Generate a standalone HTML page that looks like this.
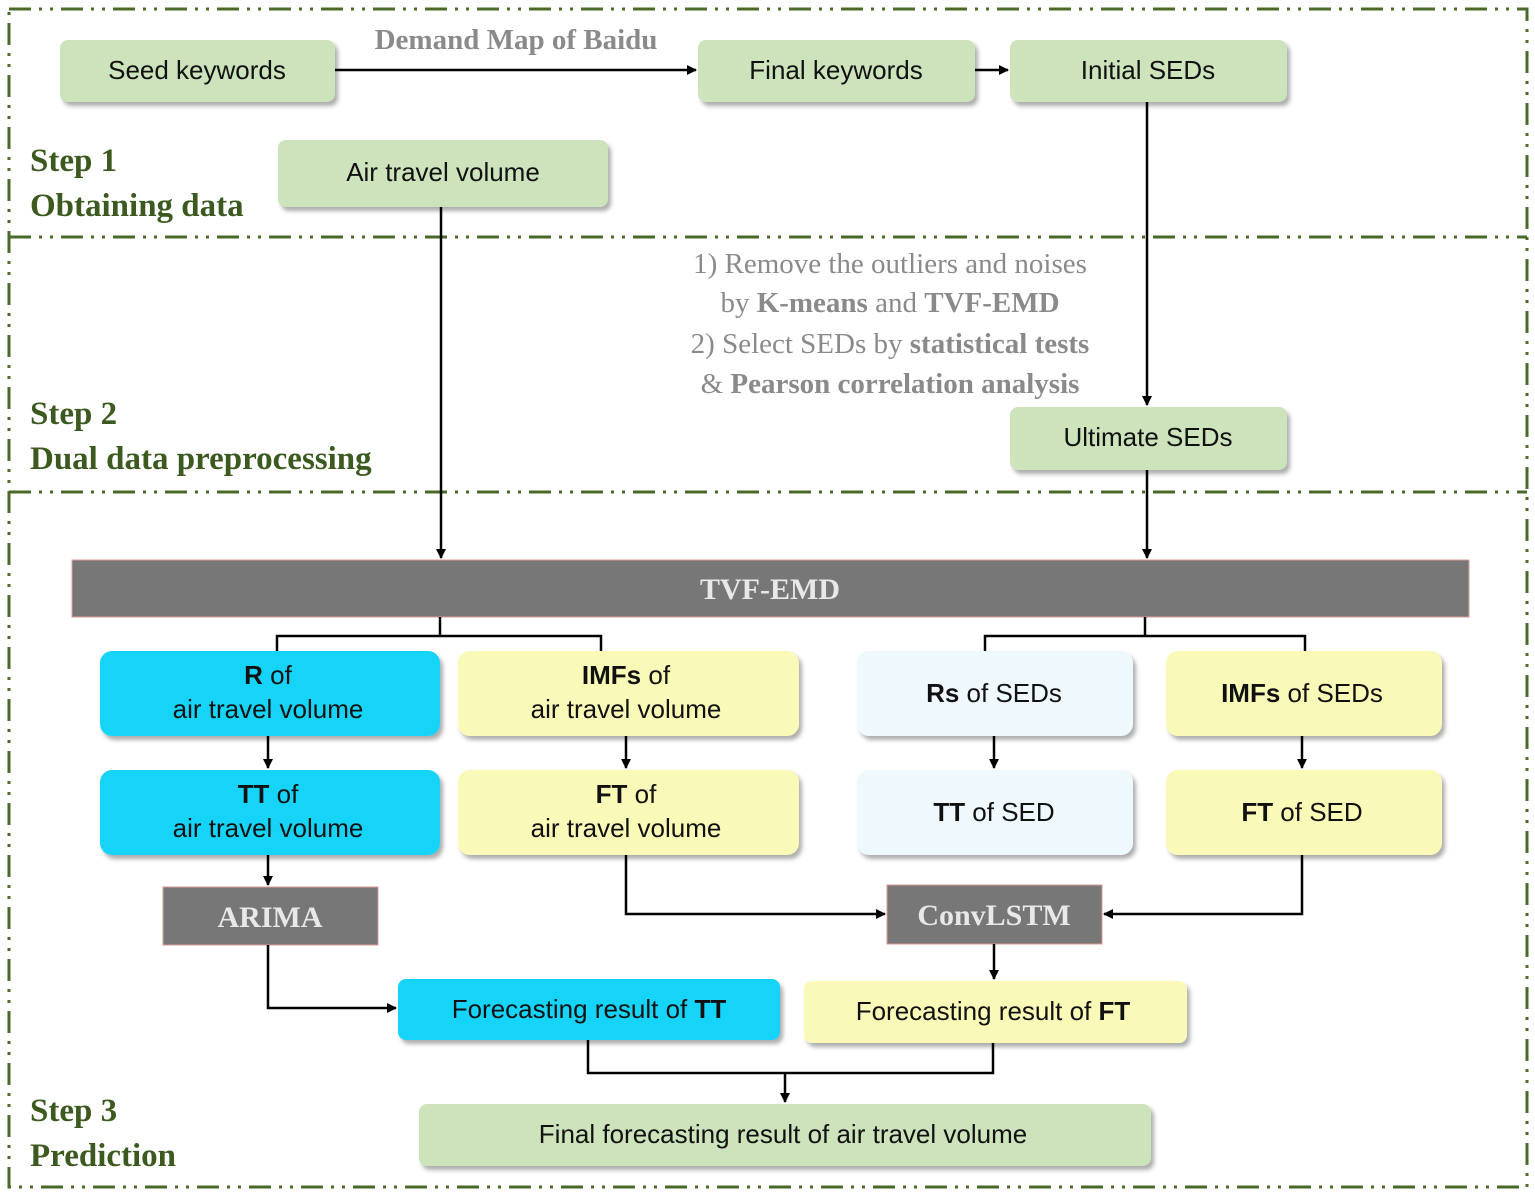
<!DOCTYPE html>
<html><head><meta charset="utf-8"><style>
html,body{margin:0;padding:0;background:#fff;width:1535px;height:1194px;overflow:hidden}
svg text{font-family:"Liberation Sans",sans-serif}
.b{font-family:"Liberation Sans",sans-serif;font-size:26px;fill:#111;text-anchor:middle}
.st{font-family:"Liberation Serif",serif;font-weight:bold;font-size:33px;fill:#3c5a1f}
.g{font-family:"Liberation Serif",serif;font-size:29px;fill:#8a8a8a;text-anchor:middle}
.w{font-family:"Liberation Serif",serif;font-weight:bold;font-size:30px;fill:#e8e8e8;text-anchor:middle}
</style></head><body>
<svg width="1535" height="1194" viewBox="0 0 1535 1194" xmlns="http://www.w3.org/2000/svg">
<defs>
<marker id="a" markerWidth="10" markerHeight="10" refX="9" refY="5" orient="auto" markerUnits="userSpaceOnUse"><path d="M0,0 L10,5 L0,10 z" fill="#000"/></marker>
<filter id="sh" x="-5%" y="-10%" width="115%" height="130%"><feDropShadow dx="3" dy="4" stdDeviation="2" flood-color="#777" flood-opacity="0.6"/></filter>
</defs>
<g stroke="#4a6a2a" stroke-width="3" fill="none" stroke-dasharray="22,8,3,8,3,8">
<rect x="9" y="9" width="1518" height="1178"/>
<line x1="9" y1="237" x2="1527" y2="237"/>
<line x1="9" y1="492" x2="1527" y2="492"/>
</g>
<g filter="url(#sh)">
<rect x="60" y="40" width="275" height="62" rx="8" fill="#cde3bb"/>
<rect x="698" y="40" width="277" height="62" rx="8" fill="#cde3bb"/>
<rect x="1010" y="40" width="277" height="62" rx="8" fill="#cde3bb"/>
<rect x="278" y="140" width="330" height="67" rx="8" fill="#cde3bb"/>
<rect x="1010" y="407" width="277" height="63" rx="8" fill="#cde3bb"/>
<rect x="100" y="651" width="340" height="85" rx="12" fill="#14d4f8"/>
<rect x="458" y="651" width="341" height="85" rx="12" fill="#fafab8"/>
<rect x="857" y="651" width="276" height="85" rx="12" fill="#eff8fc"/>
<rect x="1166" y="651" width="276" height="85" rx="12" fill="#fafab8"/>
<rect x="100" y="770" width="340" height="85" rx="12" fill="#14d4f8"/>
<rect x="458" y="770" width="341" height="85" rx="12" fill="#fafab8"/>
<rect x="857" y="770" width="276" height="85" rx="12" fill="#eff8fc"/>
<rect x="1166" y="770" width="276" height="85" rx="12" fill="#fafab8"/>
<rect x="398" y="979" width="382" height="61" rx="8" fill="#14d4f8"/>
<rect x="804" y="981" width="383" height="62" rx="8" fill="#fafab8"/>
<rect x="419" y="1104" width="732" height="62" rx="8" fill="#cde3bb"/>
</g>
<rect x="72" y="560" width="1397" height="57" fill="#777" stroke="#d99" stroke-width="1"/>
<rect x="163" y="887" width="215" height="58" fill="#777" stroke="#d99" stroke-width="1"/>
<rect x="887" y="885" width="215" height="59" fill="#777" stroke="#d99" stroke-width="1"/>
<g stroke="#000" stroke-width="2.5" fill="none" marker-end="url(#a)">
<line x1="335" y1="70" x2="696" y2="70"/>
<line x1="975" y1="70" x2="1008" y2="70"/>
<line x1="1147" y1="102" x2="1147" y2="405"/>
<line x1="441" y1="207" x2="441" y2="558"/>
<line x1="1147" y1="470" x2="1147" y2="558"/>
<line x1="268" y1="736" x2="268" y2="768"/>
<line x1="626" y1="736" x2="626" y2="768"/>
<line x1="994" y1="736" x2="994" y2="768"/>
<line x1="1302" y1="736" x2="1302" y2="768"/>
<line x1="268" y1="855" x2="268" y2="885"/>
<polyline points="626,855 626,914 885,914"/>
<polyline points="1302,855 1302,914 1104,914"/>
<line x1="994" y1="944" x2="994" y2="979"/>
<polyline points="268,945 268,1008 396,1008"/>
<line x1="785" y1="1073" x2="785" y2="1102"/>
</g>
<g stroke="#000" stroke-width="2.5" fill="none">
<polyline points="277,651 277,636 601,636 601,651"/>
<line x1="440" y1="617" x2="440" y2="636"/>
<polyline points="985,651 985,636 1305,636 1305,651"/>
<line x1="1145" y1="617" x2="1145" y2="636"/>
<polyline points="588,1040 588,1073 993,1073 993,1043"/>
</g>
<text class="g" x="516" y="49" font-weight="bold">Demand Map of Baidu</text>
<text class="b" x="197" y="79">Seed keywords</text>
<text class="b" x="836" y="79">Final keywords</text>
<text class="b" x="1148" y="79">Initial SEDs</text>
<text class="b" x="443" y="181">Air travel volume</text>
<text class="b" x="1148" y="446">Ultimate SEDs</text>
<text class="st" x="30" y="171">Step 1</text>
<text class="st" x="30" y="216">Obtaining  data</text>
<text class="st" x="30" y="424">Step 2</text>
<text class="st" x="30" y="469">Dual data preprocessing</text>
<text class="st" x="30" y="1121">Step 3</text>
<text class="st" x="30" y="1166">Prediction</text>
<text class="g" x="890" y="273">1) Remove the outliers and noises</text>
<text class="g" x="890" y="312">by <tspan font-weight="bold">K-means</tspan> and <tspan font-weight="bold">TVF-EMD</tspan></text>
<text class="g" x="890" y="353">2) Select SEDs by <tspan font-weight="bold">statistical tests</tspan></text>
<text class="g" x="890" y="393">&amp; <tspan font-weight="bold">Pearson correlation analysis</tspan></text>
<text class="w" x="770" y="599">TVF-EMD</text>
<text class="w" x="270" y="927">ARIMA</text>
<text class="w" x="994" y="925">ConvLSTM</text>
<text class="b" x="268" y="684"><tspan font-weight="bold">R</tspan> of</text>
<text class="b" x="268" y="718">air travel volume</text>
<text class="b" x="626" y="684"><tspan font-weight="bold">IMFs</tspan> of</text>
<text class="b" x="626" y="718">air travel volume</text>
<text class="b" x="994" y="702"><tspan font-weight="bold">Rs</tspan> of SEDs</text>
<text class="b" x="1302" y="702"><tspan font-weight="bold">IMFs</tspan> of SEDs</text>
<text class="b" x="268" y="803"><tspan font-weight="bold">TT</tspan> of</text>
<text class="b" x="268" y="837">air travel volume</text>
<text class="b" x="626" y="803"><tspan font-weight="bold">FT</tspan> of</text>
<text class="b" x="626" y="837">air travel volume</text>
<text class="b" x="994" y="821"><tspan font-weight="bold">TT</tspan> of SED</text>
<text class="b" x="1302" y="821"><tspan font-weight="bold">FT</tspan> of SED</text>
<text class="b" x="589" y="1018">Forecasting result of <tspan font-weight="bold">TT</tspan></text>
<text class="b" x="993" y="1020">Forecasting result of <tspan font-weight="bold">FT</tspan></text>
<text class="b" x="783" y="1143">Final forecasting result of air travel volume</text>
</svg>
</body></html>
